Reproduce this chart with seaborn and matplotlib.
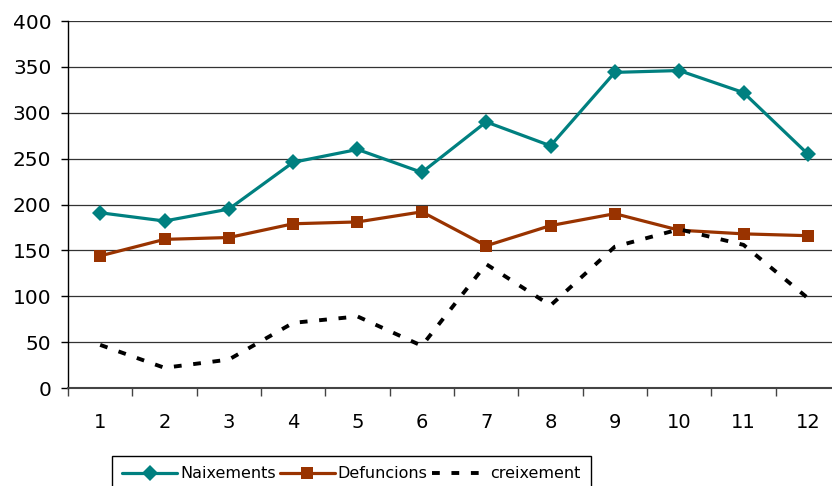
import numpy as np
import pandas as pd
import matplotlib
matplotlib.use('Agg')
import matplotlib.pyplot as plt
import seaborn as sns

# Chart data
months = list(range(1, 13))
naixements = [191, 182, 195, 246, 260, 235, 290, 264, 344, 346, 322, 255]
defuncions = [144, 162, 164, 179, 181, 192, 155, 177, 190, 172, 168, 166]
creixement = [47, 22, 31, 71, 78, 46, 135, 90, 154, 173, 156, 98]

teal = '#008080'
rust = '#993300'

sns.set_theme(style="white")
plt.rcParams['font.family'] = ['DejaVu Sans']
plt.rcParams['text.color'] = 'black'

fig = plt.figure(figsize=(8.32, 4.86), dpi=100)
ax = fig.add_axes([68 / 832, 1 - 388 / 486, (840 - 68) / 832, (388 - 21) / 486])

df = pd.DataFrame({'mes': months, 'Naixements': naixements,
                   'Defuncions': defuncions, 'creixement': creixement})

sns.lineplot(data=df, x='mes', y='Naixements', ax=ax, color=teal, lw=2.3,
             marker='D', markersize=8, markeredgewidth=0, label='Naixements')
sns.lineplot(data=df, x='mes', y='Defuncions', ax=ax, color=rust, lw=2.3,
             marker='s', markersize=8.5, markeredgewidth=0, label='Defuncions')
sns.lineplot(data=df, x='mes', y='creixement', ax=ax, color='black', lw=2.8,
             label='creixement')
ax.lines[-1].set_dashes((2, 3))
ax.lines[-1].set_dash_capstyle('butt')

ax.set_xlim(0.5, 12.5)
ax.set_ylim(0, 400)
ax.set_yticks(np.arange(0, 401, 50))
ax.set_xticks(months)
ax.set_xticks(np.arange(0.5, 13, 1), minor=True)
ax.grid(axis='y', color='#333333', lw=0.9)
ax.set_axisbelow(True)
ax.set_xlabel('')
ax.set_ylabel('')

for s in ['top', 'right']:
    ax.spines[s].set_visible(False)
ax.spines['left'].set_color('black')
ax.spines['left'].set_linewidth(1)
ax.spines['bottom'].set_color('#444444')
ax.spines['bottom'].set_linewidth(1.5)

ax.tick_params(axis='y', which='major', left=True, length=5, width=1,
               color='black', labelsize=14.5, pad=7, labelcolor='black')
ax.tick_params(axis='x', which='major', bottom=False, length=0,
               labelsize=14, pad=18, labelcolor='black')
ax.tick_params(axis='x', which='minor', bottom=True, length=6, width=1,
               color='#444444')

leg = ax.legend(loc='upper left', bbox_to_anchor=(112 / 832, 1 - 456 / 486),
                bbox_transform=fig.transFigure, ncol=3, frameon=True,
                fontsize=11.5, edgecolor='black', fancybox=False,
                framealpha=1, borderpad=0.65, handlelength=3.4,
                handletextpad=0.2, columnspacing=0.3, borderaxespad=0)
leg.get_frame().set_linewidth(1)
for t in leg.get_texts():
    t.set_color('black')

fig.savefig('out.png', dpi=100)
